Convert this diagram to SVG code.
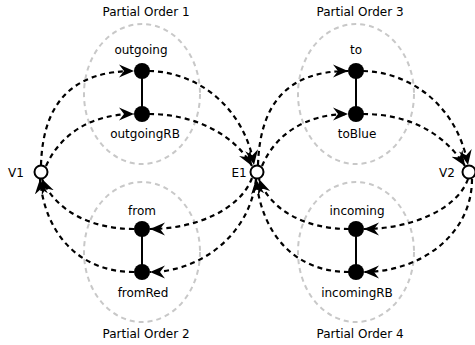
<svg xmlns="http://www.w3.org/2000/svg" width="475" height="345" viewBox="0 0 475 345">
<style>
text{font-family:"DejaVu Sans","Liberation Sans",sans-serif;font-size:12px;fill:#000;text-anchor:middle}
.po{fill:none;stroke:#c8c8c8;stroke-width:2;stroke-dasharray:5,4}
.e{fill:none;stroke:#000;stroke-width:2.2;stroke-dasharray:5,4;marker-end:url(#ah)}
.s{stroke:#000;stroke-width:2}
.f{fill:#000}
.o{fill:#fff;stroke:#000;stroke-width:2}
</style>
<defs>
<marker id="ah" markerUnits="userSpaceOnUse" markerWidth="16" markerHeight="14" refX="15" refY="6.5" orient="auto" viewBox="0 0 16 13">
<path d="M0,0 L15,6.5 L0,13 L5,6.5 z" fill="#000"/>
</marker>
</defs>
<g id="partial-orders">
<ellipse class="po" cx="142" cy="94" rx="58" ry="70"/>
<ellipse class="po" cx="142" cy="252" rx="58" ry="70"/>
<ellipse class="po" cx="356" cy="94" rx="58" ry="70"/>
<ellipse class="po" cx="356" cy="252" rx="58" ry="70"/>
<text x="146" y="16">Partial Order 1</text>
<text x="146" y="338">Partial Order 2</text>
<text x="360" y="16">Partial Order 3</text>
<text x="360" y="338">Partial Order 4</text>
</g>
<g id="connectors">
<line class="s" x1="142" y1="71" x2="142" y2="114"/>
<line class="s" x1="142" y1="229" x2="142" y2="272"/>
<line class="s" x1="356" y1="71" x2="356" y2="114"/>
<line class="s" x1="356" y1="229" x2="356" y2="272"/>
<path class="e" d="M41,165 C43,100 75,71 134,71"/>
<path class="e" d="M46,166 C60,135 90,114 134,114"/>
<path class="e" d="M149,71 C200,72 245,110 254,165"/>
<path class="e" d="M149,114 C195,114 235,135 252,166"/>
<path class="e" d="M252,178 C240,210 195,229 150,229"/>
<path class="e" d="M256,179 C250,235 200,272 150,272"/>
<path class="e" d="M134,229 C90,229 55,210 42,179"/>
<path class="e" d="M134,272 C80,272 45,235 40,179"/>
<path class="e" d="M258,165 C260,100 291,71 348,71"/>
<path class="e" d="M262,166 C275,135 305,114 348,114"/>
<path class="e" d="M363,71 C410,72 457,105 468,165"/>
<path class="e" d="M363,114 C405,114 442,130 465,166"/>
<path class="e" d="M468,179 C457,210 410,229 364,229"/>
<path class="e" d="M472,179 C472,235 420,272 364,272"/>
<path class="e" d="M349,229 C305,229 270,210 259,179"/>
<path class="e" d="M349,272 C295,272 262,235 256,179"/>
</g>
<g id="outgoing"><circle class="f" cx="142" cy="71" r="8"/><text x="141" y="54">outgoing</text></g>
<g id="outgoingRB"><circle class="f" cx="142" cy="114" r="8"/><text x="145" y="138">outgoingRB</text></g>
<g id="from"><circle class="f" cx="142" cy="229" r="8"/><text x="142" y="215">from</text></g>
<g id="fromRed"><circle class="f" cx="142" cy="272" r="8"/><text x="143" y="297">fromRed</text></g>
<g id="to"><circle class="f" cx="356" cy="71" r="8"/><text x="356" y="54">to</text></g>
<g id="toBlue"><circle class="f" cx="356" cy="114" r="8"/><text x="357" y="138">toBlue</text></g>
<g id="incoming"><circle class="f" cx="356" cy="229" r="8"/><text x="357" y="215">incoming</text></g>
<g id="incomingRB"><circle class="f" cx="356" cy="272" r="8"/><text x="357" y="297">incomingRB</text></g>
<g id="V1"><circle class="o" cx="41" cy="172" r="6.5"/><text x="16" y="177">V1</text></g>
<g id="E1"><circle class="o" cx="257" cy="172" r="6.5"/><text x="239" y="177">E1</text></g>
<g id="V2"><circle class="o" cx="469" cy="172" r="6.5"/><text x="447" y="177">V2</text></g>
</svg>
